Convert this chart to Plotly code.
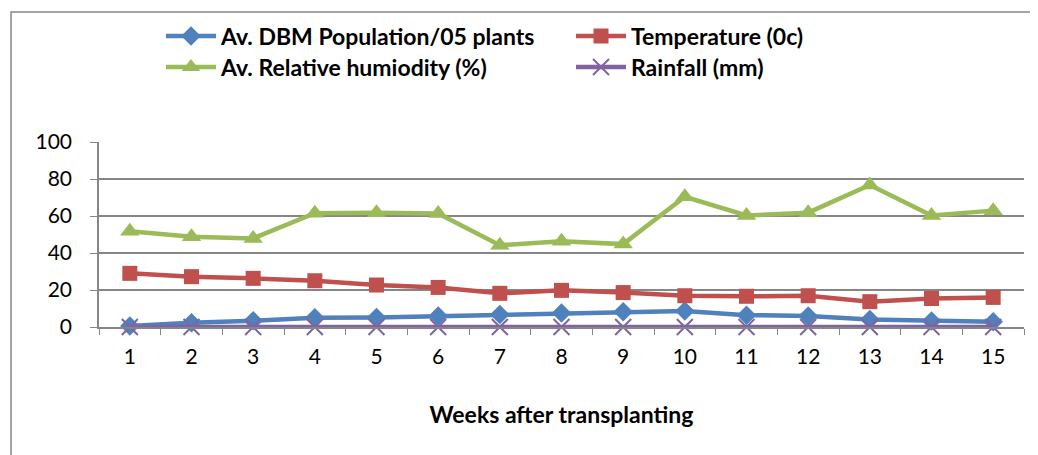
import plotly.graph_objects as go

weeks = [str(i) for i in range(1, 16)]
dbm = [0.5, 2.3, 3.4, 5.0, 5.2, 6.0, 6.8, 7.6, 8.2, 8.6, 6.4, 6.0, 4.0, 3.3, 2.8]
temperature = [29.0, 27.2, 26.3, 25.0, 22.7, 21.4, 18.2, 19.8, 18.6, 16.9, 16.6, 16.9, 13.7, 15.4, 16.0]
humidity = [51.8, 48.8, 47.9, 61.5, 61.8, 61.4, 44.2, 46.3, 44.8, 70.4, 60.3, 61.8, 76.8, 60.3, 62.9]
rainfall = [0] * 15

names = ["Av. DBM Population/05 plants", "Temperature (0c)", "Av. Relative humiodity (%)", "Rainfall (mm)"]
colors = ["#4F81BD", "#C0504D", "#9BBB59", "#8064A2"]
symbols = ["diamond", "square", "triangle-up", "x-thin"]
sizes = [15, 15, 17, 16]
series = [dbm, temperature, humidity, rainfall]
legend_ids = ["legend", "legend2", "legend3", "legend4"]
legend_pos = [(0.1474, 0.9385), (0.5424, 0.9385), (0.1474, 0.8703), (0.5424, 0.8703)]

font_family = "Lato, Calibri, Carlito, sans-serif"

fig = go.Figure()
for name, col, sym, sz, vals, lid in zip(names, colors, symbols, sizes, series, legend_ids):
    marker = dict(symbol=sym, size=sz, color=col)
    if sym == "x-thin":
        marker["line"] = dict(color=col, width=2)
    fig.add_trace(go.Scatter(x=weeks, y=vals, name=name, mode="lines+markers",
                             line=dict(color=col, width=4.5), marker=marker,
                             legend=lid, cliponaxis=False))

layout_legends = {}
for lid, (lx, ly) in zip(legend_ids, legend_pos):
    layout_legends[lid] = dict(xref="container", yref="container", x=lx, y=ly,
                               xanchor="left", yanchor="middle", itemwidth=50,
                               font=dict(family=font_family, size=23, color="black", weight="bold"),
                               bgcolor="rgba(0,0,0,0)", borderwidth=0)

fig.update_layout(
    width=1038, height=455,
    margin=dict(l=91, r=22, t=134, b=136, autoexpand=False),
    paper_bgcolor="white", plot_bgcolor="white",
    font=dict(family=font_family, size=21, color="black"),
    showlegend=True,
    xaxis=dict(type="category", range=[-0.5, 14.5], tickson="boundaries", ticks="outside", ticklen=6,
               tickcolor="#868686", showline=True, linecolor="#868686", linewidth=1.5,
               showgrid=False, tickfont=dict(size=21), automargin=False, ticklabelstandoff=10,
               title=dict(text="<b>Weeks after transplanting</b>", standoff=40,
                          font=dict(size=23))),
    yaxis=dict(range=[0, 100], dtick=20, ticks="outside", ticklen=7,
               tickcolor="#868686", showline=True, linecolor="#868686", linewidth=1.5,
               showgrid=True, gridcolor="#868686", gridwidth=1.5, automargin=False,
               ticklabelstandoff=14, zeroline=False, tickfont=dict(size=21)),
    **layout_legends,
)
fig.add_shape(type="rect", xref="paper", yref="paper",
              x0=-0.0951, x1=1.05, y0=-0.75, y1=1.7027,
              line=dict(color="#868686", width=1.5), layer="below")
fig.write_html("out.html")
